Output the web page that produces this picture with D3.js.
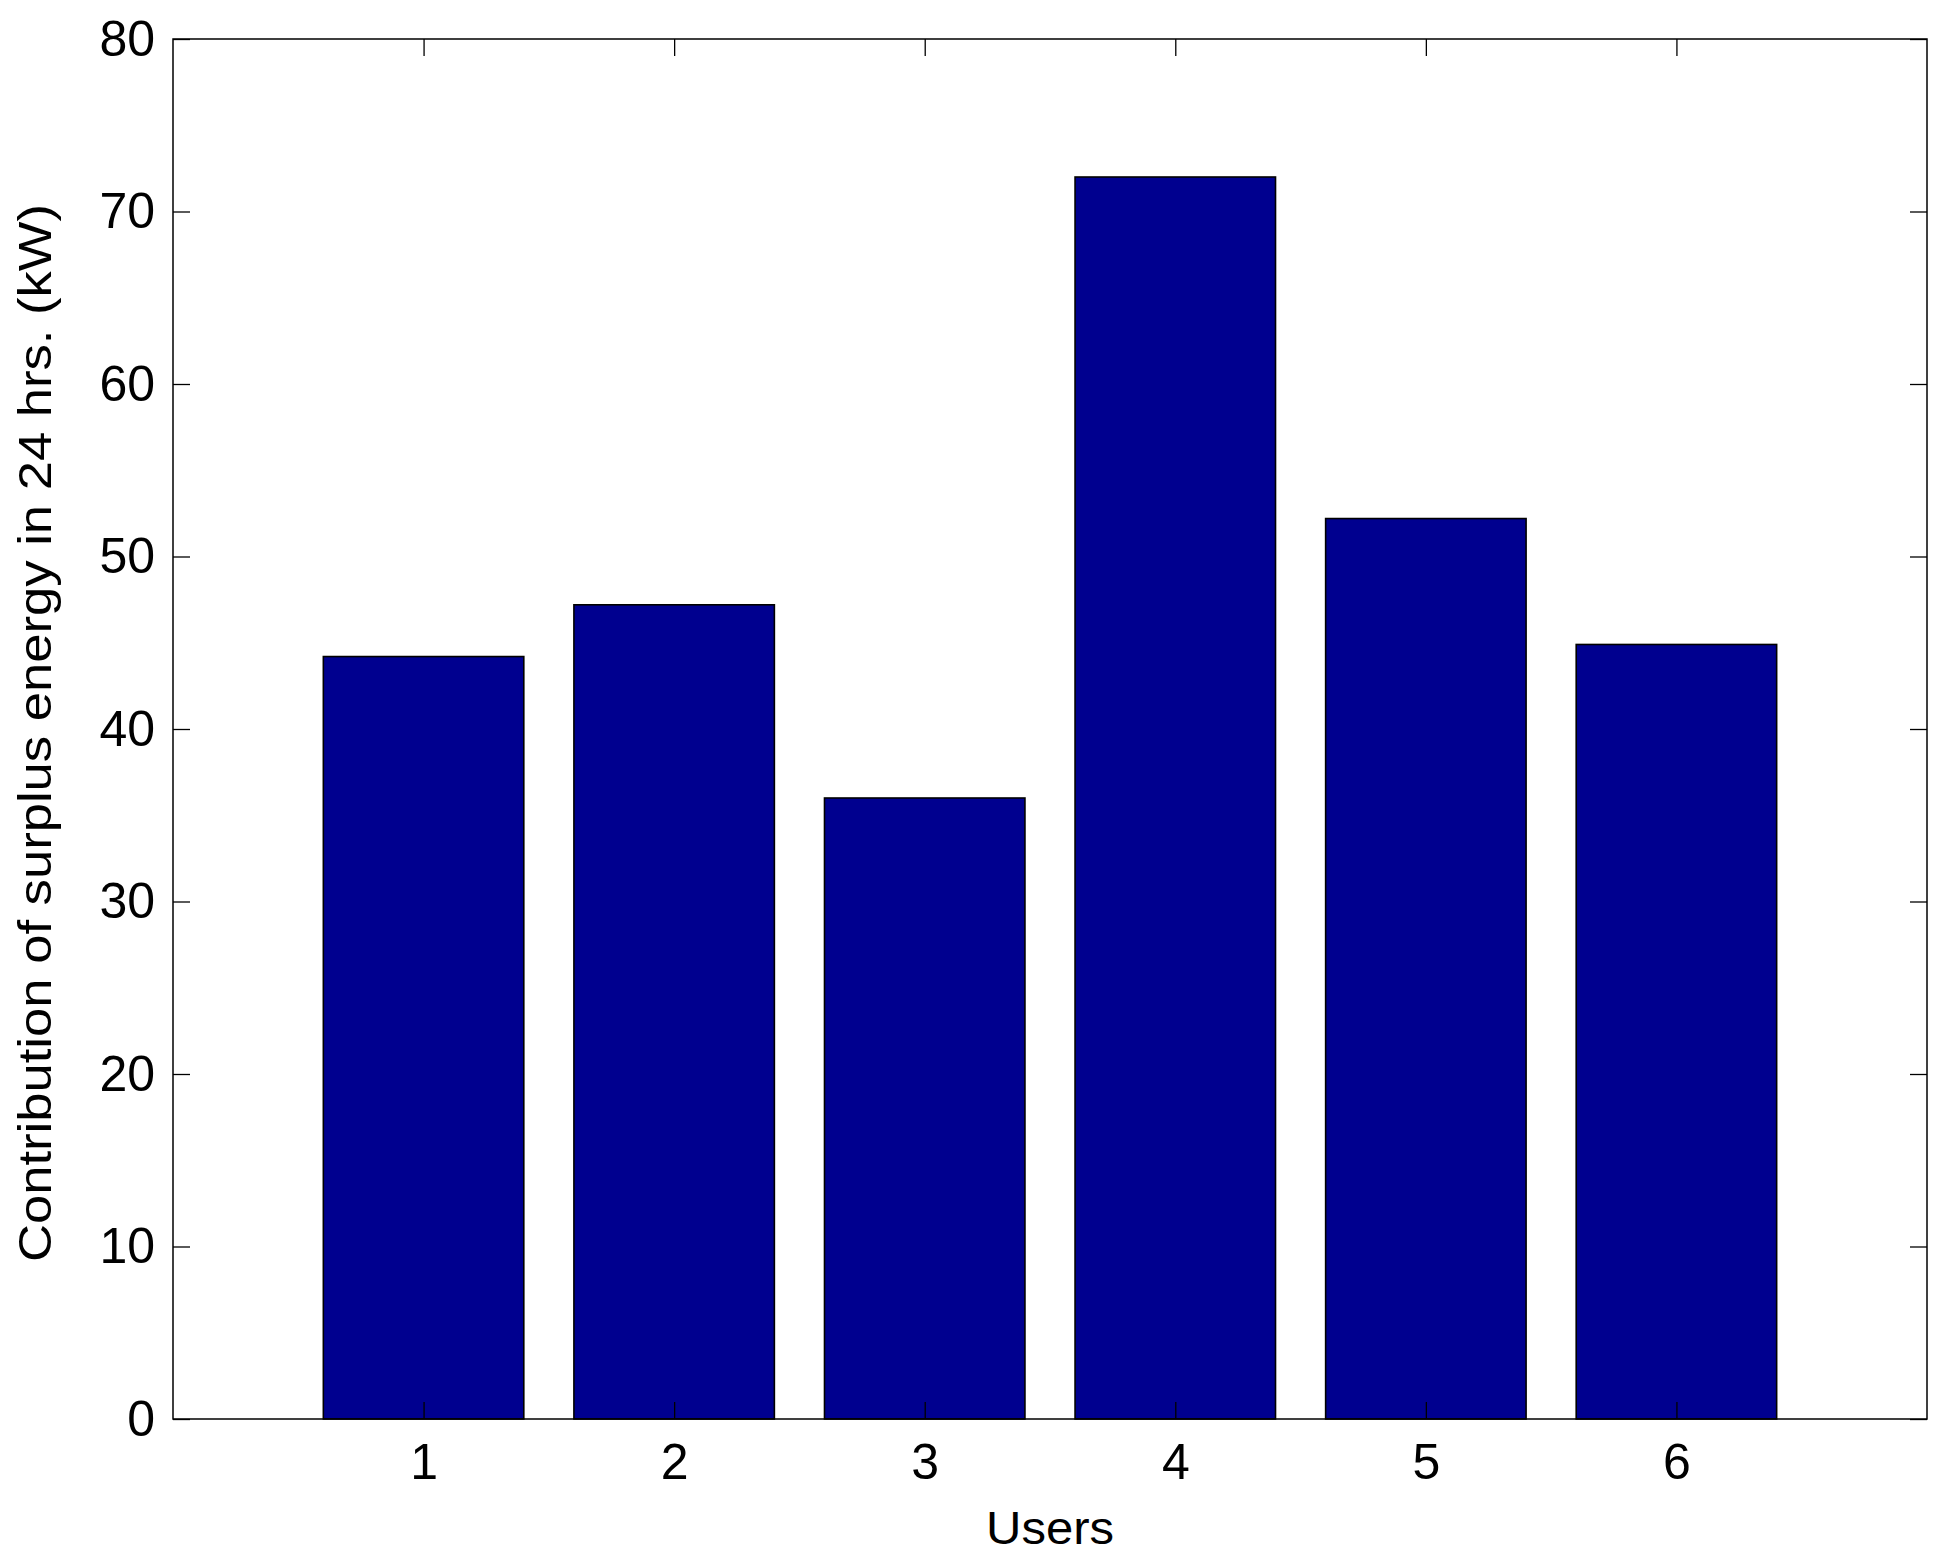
<!DOCTYPE html>
<html>
<head>
<meta charset="utf-8">
<script src="https://cdn.jsdelivr.net/npm/d3@7"></script>
<style>
  html, body { margin: 0; padding: 0; background: #fff; }
  svg { display: block; }
  text { font-family: "Liberation Sans", Arial, Helvetica, sans-serif; fill: #000; }
</style>
</head>
<body>
<svg id="chart" width="1941" height="1562"></svg>
<script>
// Data
const users = [1, 2, 3, 4, 5, 6];
const surplus = [44.2, 47.2, 36.0, 72.0, 52.2, 44.9];
const yTicks = [0, 10, 20, 30, 40, 50, 60, 70, 80];
const xLabel = "Users";
const yLabel = "Contribution of surplus energy in 24 hrs. (kW)";

const W = 1941, H = 1562;
const mLeft = 173, mRight = 1927, mTop = 39, mBottom = 1419;

const svg = d3.select("#chart");
svg.append("rect").attr("width", W).attr("height", H).attr("fill", "#fff");

const x = d3.scaleLinear().domain([0, 7]).range([mLeft, mRight]);
const y = d3.scaleLinear().domain([0, 80]).range([mBottom, mTop]);
const barW = 0.8;

// Bars
svg.append("g").selectAll("rect")
  .data(users.map((u, i) => ({u, v: surplus[i]})))
  .join("rect")
  .attr("x", d => x(d.u - barW / 2))
  .attr("width", d => x(d.u + barW / 2) - x(d.u - barW / 2))
  .attr("y", d => y(d.v))
  .attr("height", d => y(0) - y(d.v))
  .attr("fill", "#00008f")
  .attr("stroke", "#000")
  .attr("stroke-width", 1.6);

const tickLen = 17;
const fs = 50;

// Left axis
const gL = svg.append("g").attr("transform", `translate(${mLeft},0)`)
  .call(d3.axisLeft(y).tickValues(yTicks).tickFormat(d3.format("d"))
    .tickSizeInner(-tickLen).tickSizeOuter(0).tickPadding(18));
// Bottom axis
const gB = svg.append("g").attr("transform", `translate(0,${mBottom})`)
  .call(d3.axisBottom(x).tickValues(users).tickFormat(d3.format("d"))
    .tickSizeInner(-tickLen).tickSizeOuter(0).tickPadding(24));
// Right axis (ticks only)
const gR = svg.append("g").attr("transform", `translate(${mRight},0)`)
  .call(d3.axisRight(y).tickValues(yTicks).tickFormat("")
    .tickSizeInner(-tickLen).tickSizeOuter(0));
// Top axis (ticks only)
const gT = svg.append("g").attr("transform", `translate(0,${mTop})`)
  .call(d3.axisTop(x).tickValues(users).tickFormat("")
    .tickSizeInner(-tickLen).tickSizeOuter(0));

[gL, gB, gR, gT].forEach(g => {
  g.select(".domain").remove();
  g.selectAll(".tick line").attr("stroke", "#000").attr("stroke-width", 1.3);
  g.selectAll("text").attr("font-size", fs)
    .attr("font-family", '"Liberation Sans", Arial, sans-serif').attr("fill", "#000");
});

// Box
svg.append("rect")
  .attr("x", mLeft).attr("y", mTop)
  .attr("width", mRight - mLeft).attr("height", mBottom - mTop)
  .attr("fill", "none").attr("stroke", "#000").attr("stroke-width", 1.5);

// Axis labels
svg.append("text")
  .attr("x", (mLeft + mRight) / 2).attr("y", 1544)
  .attr("text-anchor", "middle").attr("font-size", 46)
  .attr("textLength", 128).attr("lengthAdjust", "spacingAndGlyphs")
  .text(xLabel);

svg.append("text")
  .attr("transform", `translate(51,733) rotate(-90)`)
  .attr("text-anchor", "middle").attr("font-size", 46)
  .attr("textLength", 1058).attr("lengthAdjust", "spacingAndGlyphs")
  .text(yLabel);
</script>
</body>
</html>
